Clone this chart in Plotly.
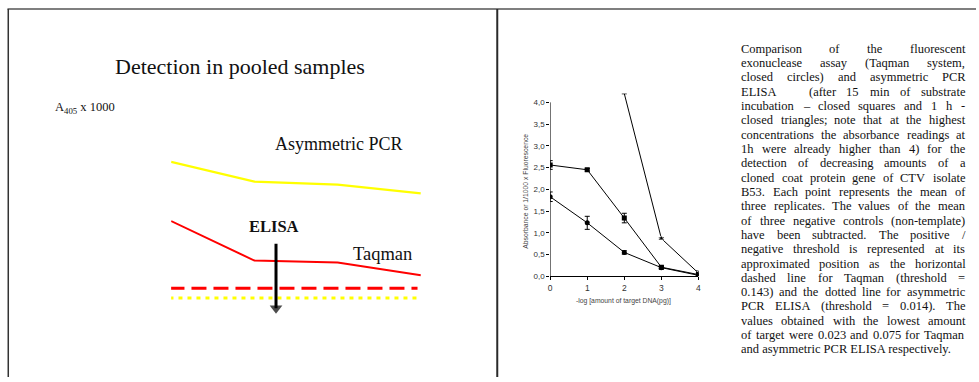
import plotly.graph_objects as go

W, H = 979, 382

# ---------------- Left slide: schematic ----------------
schem_x = [0, 1, 2, 3]
asym_pcr_schem = [78, 68, 66.5, 62]
taqman_schem = [48, 28, 27, 20.5]
thr_x_taqman = [-0.02, 2.96]
thr_taqman_schem = [14, 14]
thr_x_asym = [-0.02, 3.02]
thr_asym_schem = [9, 9]
elisa_arrow_x = [1.26, 1.26]
elisa_arrow_y = [36.5, 3.8]  # tail, head centre

# ---------------- Right slide: chart ----------------
log_amount = [0, 1, 2, 3, 4]
elisa_15min = [2.56, 2.45, 1.34, 0.21, 0.04]
elisa_15min_err = [0.10, 0.03, 0.11, 0.03, 0.02]
taqman = [1.83, 1.23, 0.55, 0.20, 0.023]
taqman_err = [0.11, 0.15, 0.04, 0.03, 0.02]
log_amount_1h = [2, 3, 4]
elisa_1h = [4.2, 0.87, 0.075]
elisa_1h_err = [None, 0.02, 0.05]
y_ticks = [0, 0.5, 1.0, 1.5, 2.0, 2.5, 3.0, 3.5, 4.0]
y_ticklabels = [f"{v:.1f}".replace(".", ",") for v in y_ticks]
x_ticks = [0, 1, 2, 3, 4]

caption_lines = [
    "Comparison of the fluorescent",
    "exonuclease assay (Taqman system,",
    "closed circles) and asymmetric PCR",
    "ELISA   (after 15 min of substrate",
    "incubation \u2013 closed squares and 1 h -",
    "closed triangles; note that at the highest",
    "concentrations the absorbance readings at",
    "1h were already higher than 4) for the",
    "detection of decreasing amounts of a",
    "cloned coat protein gene of CTV isolate",
    "B53. Each point represents the mean of",
    "three replicates. The values of the mean",
    "of three negative controls (non-template)",
    "have been subtracted. The positive /",
    "negative threshold is represented at its",
    "approximated position as the horizontal",
    "dashed line for Taqman (threshold =",
    "0.143) and the dotted line for asymmetric",
    "PCR ELISA (threshold = 0.014). The",
    "values obtained with the lowest amount",
    "of target were 0.023 and 0.075 for Taqman",
    "and asymmetric PCR ELISA respectively.",
]

SERIF = "Liberation Serif, Times New Roman, serif"
SANS = "Liberation Sans, Arial, sans-serif"


def px(xp):
    return xp / W


def py(yp):
    return 1 - yp / H


fig = go.Figure()

# schematic traces (left)
fig.add_trace(go.Scatter(x=schem_x, y=asym_pcr_schem, mode="lines",
                         line=dict(color="#FFFF00", width=2.2),
                         xaxis="x2", yaxis="y2", showlegend=False, hoverinfo="skip"))
fig.add_trace(go.Scatter(x=schem_x, y=taqman_schem, mode="lines",
                         line=dict(color="#FF0000", width=2),
                         xaxis="x2", yaxis="y2", showlegend=False, hoverinfo="skip"))
fig.add_trace(go.Scatter(x=thr_x_taqman, y=thr_taqman_schem, mode="lines",
                         line=dict(color="#FF0000", width=3, dash="15px,7px"),
                         xaxis="x2", yaxis="y2", showlegend=False, hoverinfo="skip"))
fig.add_trace(go.Scatter(x=thr_x_asym, y=thr_asym_schem, mode="lines",
                         line=dict(color="#FFFF00", width=3, dash="4px,5px"),
                         xaxis="x2", yaxis="y2", showlegend=False, hoverinfo="skip"))
# ELISA arrow
fig.add_trace(go.Scatter(x=elisa_arrow_x, y=elisa_arrow_y, mode="lines+markers",
                         line=dict(color="black", width=3),
                         marker=dict(symbol="triangle-down", size=[0, 11], color="black",
                                     line=dict(width=0)),
                         xaxis="x2", yaxis="y2", showlegend=False, hoverinfo="skip",
                         cliponaxis=False))

# chart traces (right)
err_style = dict(type="data", visible=True, thickness=1, width=2.5, color="black")
fig.add_trace(go.Scatter(x=log_amount_1h, y=elisa_1h, mode="lines+markers",
                         line=dict(color="black", width=1),
                         marker=dict(symbol="triangle-up", size=[0, 6, 6], color="black"),
                         error_y=dict(array=elisa_1h_err, **err_style),
                         showlegend=False, hoverinfo="skip"))
fig.add_trace(go.Scatter(x=log_amount, y=elisa_15min, mode="lines+markers",
                         line=dict(color="black", width=1),
                         marker=dict(symbol="square", size=5, color="black"),
                         error_y=dict(array=elisa_15min_err, **err_style),
                         showlegend=False, hoverinfo="skip"))
fig.add_trace(go.Scatter(x=log_amount, y=taqman, mode="lines+markers",
                         line=dict(color="black", width=1),
                         marker=dict(symbol="circle", size=5, color="black"),
                         error_y=dict(array=taqman_err, **err_style),
                         showlegend=False, hoverinfo="skip"))

annotations = []

# Left slide texts
annotations.append(dict(text="Detection in pooled samples", x=px(239), y=py(67),
                        xref="paper", yref="paper", xanchor="center", yanchor="middle",
                        showarrow=False, font=dict(family=SERIF, size=22, color="#111")))
annotations.append(dict(text="A<sub>405</sub> x 1000", x=px(51), y=py(109),
                        xref="paper", yref="paper", xanchor="left", yanchor="middle",
                        showarrow=False, font=dict(family=SERIF, size=12.5, color="#111")))
annotations.append(dict(text="Asymmetric PCR", x=px(272), y=py(146),
                        xref="paper", yref="paper", xanchor="left", yanchor="middle",
                        showarrow=False, font=dict(family=SERIF, size=18, color="#111")))
annotations.append(dict(text="<b>ELISA</b>", x=px(246), y=py(229),
                        xref="paper", yref="paper", xanchor="left", yanchor="middle",
                        showarrow=False, font=dict(family=SERIF, size=16.5, color="#111")))
annotations.append(dict(text="Taqman", x=px(351), y=py(257),
                        xref="paper", yref="paper", xanchor="left", yanchor="middle",
                        showarrow=False, font=dict(family=SERIF, size=18.5, color="#111")))

# Right chart axis titles
annotations.append(dict(text="Absorbance or 1/1000 x Fluorescence", x=px(526), y=py(194),
                        xref="paper", yref="paper", xanchor="center", yanchor="middle",
                        textangle=-90, showarrow=False,
                        font=dict(family=SANS, size=6.8, color="#444")))
annotations.append(dict(text="-log [amount of target DNA(pg)]", x=px(625), y=py(305),
                        xref="paper", yref="paper", xanchor="center", yanchor="middle",
                        showarrow=False, font=dict(family=SANS, size=6.8, color="#444")))

# Justified caption (Times/Liberation Serif metrics)
CW = {}
for ch, w in zip("abcdefghijklmnopqrstuvwxyz",
                 [444, 500, 444, 500, 444, 333, 500, 500, 278, 278, 500, 278, 778,
                  500, 500, 500, 500, 333, 389, 278, 500, 500, 722, 500, 500, 444]):
    CW[ch] = w
for ch, w in zip("ABCDEFGHIJKLMNOPQRSTUVWXYZ",
                 [722, 667, 667, 722, 611, 556, 722, 722, 333, 389, 722, 611, 889,
                  722, 722, 556, 722, 667, 556, 611, 722, 722, 944, 722, 722, 611]):
    CW[ch] = w
for ch in "0123456789":
    CW[ch] = 500
CW.update({" ": 250, ".": 250, ",": 250, ";": 278, ":": 278, "(": 333, ")": 333,
           "-": 333, "\u2013": 500, "/": 278, "=": 564})

FS = 12.5
left_px, right_px = 742, 967
y0_px, dy_px = 49.5, 14.5


def text_w(s):
    return sum(CW.get(c, 500) for c in s) * FS / 1000.0


for i, line in enumerate(caption_lines):
    ypos = py(y0_px + i * dy_px)
    if i == len(caption_lines) - 1:
        annotations.append(dict(text=line, x=px(left_px), y=ypos, xref="paper", yref="paper",
                                xanchor="left", yanchor="middle", showarrow=False, borderpad=0,
                                font=dict(family=SERIF, size=FS, color="#111")))
        continue
    words = line.split(" ")
    total = sum(text_w(w) for w in words)
    gap = (right_px - left_px - total) / (len(words) - 1)
    xcur = left_px
    for w in words:
        if w:
            annotations.append(dict(text=w, x=px(xcur), y=ypos, xref="paper", yref="paper",
                                    xanchor="left", yanchor="middle", showarrow=False,
                                    borderpad=0,
                                    font=dict(family=SERIF, size=FS, color="#111")))
        xcur += text_w(w) + gap

shapes = [
    # slide frames
    dict(type="line", xref="paper", yref="paper", x0=px(5.5), x1=1, y0=py(9), y1=py(9),
         line=dict(color="#555555", width=1.5)),
    dict(type="line", xref="paper", yref="paper", x0=px(6.3), x1=px(6.3), y0=py(9), y1=0,
         line=dict(color="#333333", width=1.5)),
    dict(type="line", xref="paper", yref="paper", x0=px(497.8), x1=px(497.8), y0=py(9), y1=0,
         line=dict(color="#2a2a2a", width=2)),
    # y-axis line of the chart, 0..4
    dict(type="line", xref="x", yref="y", x0=0, x1=0, y0=0, y1=4,
         line=dict(color="black", width=1)),
]

fig.update_layout(
    width=W, height=H,
    margin=dict(l=0, r=0, t=0, b=0),
    paper_bgcolor="white", plot_bgcolor="rgba(0,0,0,0)",
    showlegend=False,
    hovermode=False,
    annotations=annotations,
    shapes=shapes,
    xaxis=dict(domain=[px(551), px(700)], range=[0, 4], showgrid=False, zeroline=False,
               showline=True, linecolor="black", linewidth=1,
               ticks="outside", ticklen=3, tickwidth=1, tickcolor="black",
               tickvals=x_ticks, ticktext=[str(v) for v in x_ticks],
               tickfont=dict(family=SANS, size=8.5, color="#333"), anchor="y"),
    yaxis=dict(domain=[py(280), py(94.9)], range=[0, 4.2], showgrid=False, zeroline=False,
               showline=False,
               ticks="outside", ticklen=3, tickwidth=1, tickcolor="black",
               tickvals=y_ticks, ticktext=y_ticklabels,
               tickfont=dict(family=SANS, size=8, color="#333"), anchor="x"),
    xaxis2=dict(domain=[px(170), px(421)], range=[0, 3], visible=False, anchor="y2"),
    yaxis2=dict(domain=[py(320), py(120)], range=[0, 100], visible=False, anchor="x2"),
)

fig.write_html("out.html", config={"displayModeBar": False},
               post_script="document.body.style.margin='0';document.body.style.padding='0';"
                           "document.body.style.overflow='hidden';"
                           "document.documentElement.style.overflow='hidden';")
